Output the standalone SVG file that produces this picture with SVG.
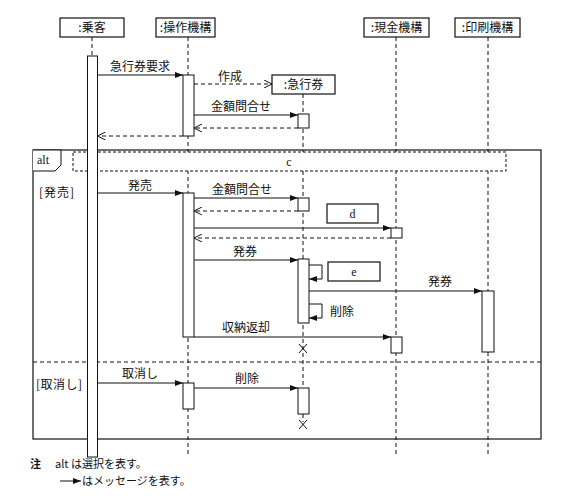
<svg xmlns="http://www.w3.org/2000/svg" width="564" height="496" viewBox="0 0 564 496">
<style>
.t{font-family:"Noto Sans CJK JP","Liberation Sans",sans-serif;font-size:12px;fill:#111}
.n{font-family:"Noto Sans CJK JP","Liberation Sans",sans-serif;font-size:11px;fill:#111}
.s{font-family:"Liberation Serif","DejaVu Serif",serif;font-size:12px;fill:#111}
.m{text-anchor:middle}
.box{fill:#fff;stroke:#111;stroke-width:1.2}
.bar{fill:#fff;stroke:#111;stroke-width:1}
.ll{stroke:#111;stroke-width:1;stroke-dasharray:4 3;fill:none}
.msg{stroke:#111;stroke-width:1;fill:none;marker-end:url(#fa)}
.ret{stroke:#111;stroke-width:1;stroke-dasharray:4 3;fill:none;marker-end:url(#oa)}
.frame{fill:none;stroke:#111;stroke-width:1.2}
</style>
<defs>
<marker id="fa" markerWidth="8" markerHeight="6" refX="8" refY="3" orient="auto" markerUnits="userSpaceOnUse">
<path d="M0,0 L8,3 L0,6 Z" fill="#111"/>
</marker>
<marker id="oa" markerWidth="8" markerHeight="8" refX="8" refY="4" orient="auto" markerUnits="userSpaceOnUse">
<path d="M0,0 L8,4 L0,8" fill="none" stroke="#111" stroke-width="1"/>
</marker>
</defs>
<rect width="564" height="496" fill="#fff"/>

<!-- lifelines -->
<g id="lifelines">
<line class="ll" x1="92" y1="37" x2="92" y2="56"/>
<line class="ll" x1="188" y1="37" x2="188" y2="457"/>
<line class="ll" x1="303" y1="94" x2="303" y2="388"/>
<line class="ll" x1="303" y1="414" x2="303" y2="422"/>
<line class="ll" x1="396" y1="37" x2="396" y2="457"/>
<line class="ll" x1="488" y1="37" x2="488" y2="457"/>
</g>

<!-- alt frame -->
<g id="alt">
<rect class="frame" x="33" y="150" width="508" height="289"/>
<path d="M33,150 L61,150 L61,165 L55,171 L33,171" fill="#fff" stroke="#111" stroke-width="1"/>
<text class="s" x="37" y="164">alt</text>
<line x1="33" y1="362" x2="541" y2="362" stroke="#111" stroke-width="1" stroke-dasharray="4 3"/>
<text class="t" x="39" y="197" letter-spacing="1">[発売]</text>
<text class="t" x="36" y="389" letter-spacing="0.5">[取消し]</text>
</g>
<g id="c">
<rect x="73" y="152" width="433" height="19" fill="#fff" stroke="#111" stroke-width="1" stroke-dasharray="3 2"/>
<text class="s m" x="289" y="166">c</text>
</g>

<!-- heads -->
<g id="passenger">
<rect class="box" x="60" y="18" width="64" height="19"/>
<text class="t m" x="92" y="32">:乗客</text>
<rect class="bar" x="87.5" y="56" width="10" height="401"/>
</g>
<g id="operation">
<rect class="box" x="156" y="18" width="59" height="19"/>
<text class="t m" x="185.5" y="32">:操作機構</text>
<rect class="bar" x="183" y="75" width="11" height="61"/>
<rect class="bar" x="183" y="193" width="11" height="144"/>
<rect class="bar" x="183" y="383" width="11" height="26"/>
</g>
<g id="ticket">
<rect class="box" x="272" y="75" width="63" height="19"/>
<text class="t m" x="303.5" y="89">:急行券</text>
<rect class="bar" x="298" y="114" width="11" height="14"/>
<rect class="bar" x="298" y="198" width="11" height="13"/>
<rect class="bar" x="298" y="259" width="11" height="64"/>
<rect class="bar" x="298" y="388" width="11" height="26"/>
<path d="M299,344 L307,353 M307,344 L299,353" stroke="#111" stroke-width="1"/>
<path d="M299,420 L307,429 M307,420 L299,429" stroke="#111" stroke-width="1"/>
</g>
<g id="cash">
<rect class="box" x="364" y="18" width="65" height="19"/>
<text class="t m" x="396.5" y="32">:現金機構</text>
<rect class="bar" x="391" y="228" width="11" height="10"/>
<rect class="bar" x="391" y="337" width="11" height="16"/>
</g>
<g id="printer">
<rect class="box" x="455" y="18" width="65" height="19"/>
<text class="t m" x="487.5" y="32">:印刷機構</text>
<rect class="bar" x="482" y="291" width="12" height="61"/>
</g>
<g id="d">
<rect class="box" x="327" y="204" width="51" height="19"/>
<text class="s m" x="352.5" y="218">d</text>
</g>
<g id="e">
<rect class="box" x="328" y="262" width="52" height="19"/>
<text class="s m" x="354" y="276">e</text>
</g>

<!-- messages -->
<g id="connectors">
<line class="msg" x1="97.5" y1="75" x2="183" y2="75"/>
<text class="t m" x="140" y="71">急行券要求</text>
<line class="ret" x1="194" y1="84" x2="272" y2="84"/>
<text class="t m" x="230" y="81">作成</text>
<line class="msg" x1="194" y1="115" x2="298" y2="115"/>
<text class="t m" x="241" y="111">金額問合せ</text>
<line class="ret" x1="298" y1="128" x2="194" y2="128"/>
<line class="ret" x1="183" y1="136" x2="97.5" y2="136"/>

<line class="msg" x1="97.5" y1="193" x2="183" y2="193"/>
<text class="t m" x="140" y="190">発売</text>
<line class="msg" x1="194" y1="198" x2="298" y2="198"/>
<text class="t m" x="242" y="194">金額問合せ</text>
<line class="ret" x1="298" y1="211" x2="194" y2="211"/>
<line class="msg" x1="194" y1="228" x2="391" y2="228"/>
<line class="ret" x1="391" y1="238" x2="194" y2="238"/>
<line class="msg" x1="194" y1="260" x2="298" y2="260"/>
<text class="t m" x="245" y="256">発券</text>
<path class="msg" d="M309,265 L322,265 L322,279 L309,279"/>
<line class="msg" x1="309" y1="291" x2="482" y2="291"/>
<text class="t m" x="440" y="286">発券</text>
<path class="msg" d="M309,304 L322,304 L322,318 L309,318"/>
<text class="t" x="330" y="316">削除</text>
<line class="msg" x1="194" y1="337" x2="391" y2="337"/>
<text class="t m" x="246" y="332">収納返却</text>

<line class="msg" x1="97.5" y1="383" x2="183" y2="383"/>
<text class="t m" x="140" y="378">取消し</text>
<line class="msg" x1="194" y1="388" x2="298" y2="388"/>
<text class="t m" x="247" y="383">削除</text>
</g>

<!-- note -->
<g id="note">
<text class="n" x="30" y="468" font-weight="bold">注</text>
<text class="n" x="55" y="468">alt は選択を表す。</text>
<line class="msg" x1="60" y1="481" x2="81" y2="481"/>
<text class="n" x="82" y="485">はメッセージを表す。</text>
</g>
</svg>
